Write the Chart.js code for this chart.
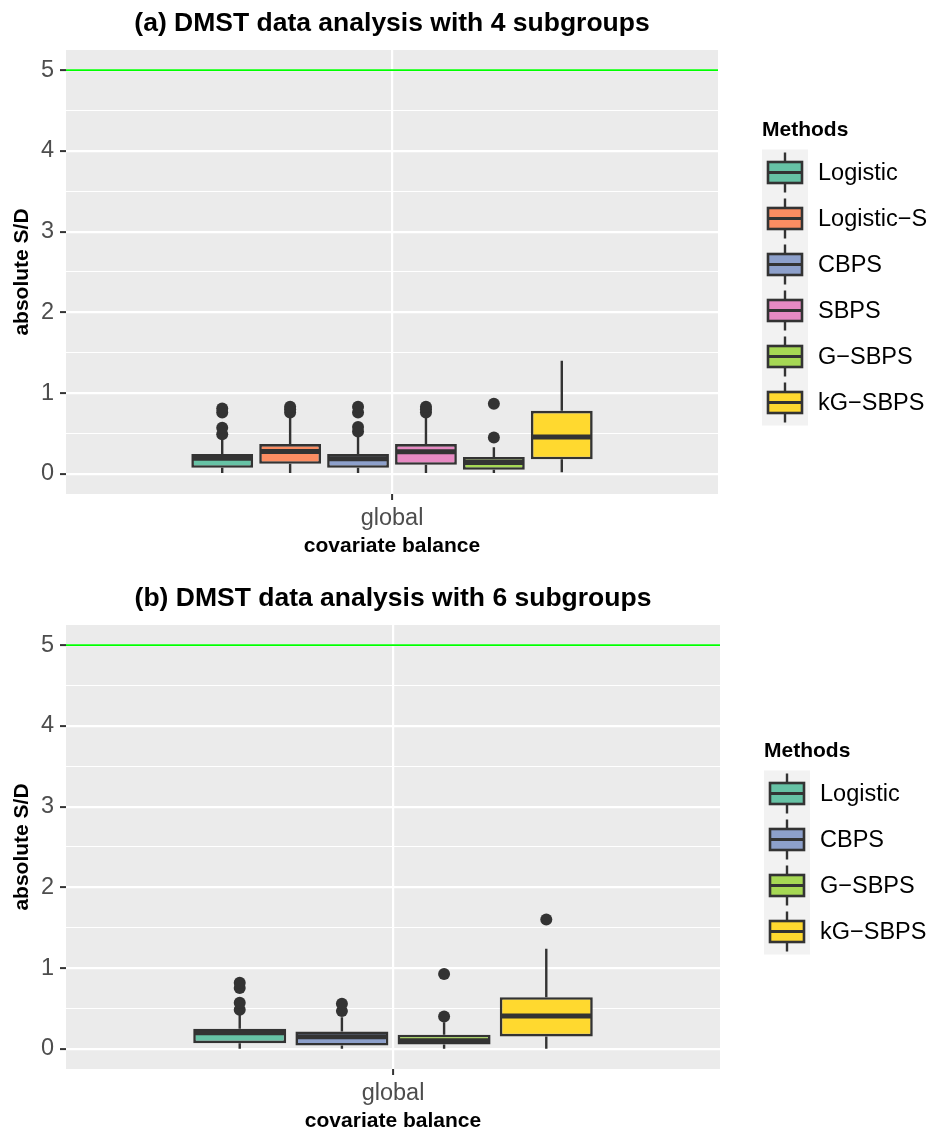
<!DOCTYPE html>
<html>
<head>
<meta charset="utf-8">
<script src="https://cdn.jsdelivr.net/npm/chart.js@4/dist/chart.umd.min.js"></script>
<style>
  html, body { margin: 0; padding: 0; background: #fff; overflow: hidden; }
  canvas { display: block; }
</style>
</head>
<body>
<canvas id="chartA" width="934" height="575"></canvas>
<canvas id="chartB" width="934" height="575"></canvas>
<script>
const FONT = "'Liberation Sans', Arial, Helvetica, sans-serif";

// ggplot Set2 colours per method
const methodColors = {
    'Logistic': '#66C2A5',
    'Logistic−S': '#FC8D62',
    'CBPS': '#8DA0CB',
    'SBPS': '#E78AC3',
    'G−SBPS': '#A6D854',
    'kG−SBPS': '#FFD92F'
};

const categories = ['global'];
const yGridValues = [0, 0.5, 1, 1.5, 2, 2.5, 3, 3.5, 4, 4.5, 5];
const refLine = 5;

// (a) 4 subgroups
const titleA = '(a) DMST data analysis with 4 subgroups';
const methodsA = ['Logistic', 'Logistic−S', 'CBPS', 'SBPS', 'G−SBPS', 'kG−SBPS'];
const lowA = [0.01, 0.01, 0.01, 0.01, 0.01, 0.02];
const q1A = [0.074, 0.124, 0.074, 0.112, 0.05, 0.18];
const medA = [0.194, 0.277, 0.186, 0.273, 0.14, 0.455];
const q3A = [0.244, 0.368, 0.244, 0.368, 0.207, 0.78];
const highA = [0.42, 0.69, 0.46, 0.69, 0.33, 1.40];
const outA = [
    [0.49, 0.57, 0.76, 0.81],
    [0.76, 0.80, 0.83],
    [0.525, 0.58, 0.76, 0.83],
    [0.76, 0.80, 0.83],
    [0.45, 0.868],
    []
];

// (b) 6 subgroups
const titleB = '(b) DMST data analysis with 6 subgroups';
const methodsB = ['Logistic', 'CBPS', 'G−SBPS', 'kG−SBPS'];
const lowB = [0.0, 0.0, 0.0, 0.0];
const q1B = [0.07, 0.04, 0.055, 0.153];
const medB = [0.2, 0.15, 0.1, 0.405];
const q3B = [0.248, 0.215, 0.174, 0.64];
const highB = [0.43, 0.39, 0.33, 1.24];
const outB = [
    [0.483, 0.57, 0.752, 0.818],
    [0.467, 0.558],
    [0.40, 0.926],
    [1.603]
];

// panel background + reference line
const panelBg = {
    id: 'panelBg',
    beforeDraw(chart) {
        const {ctx, chartArea: a} = chart;
        ctx.save();
        ctx.fillStyle = '#EBEBEB';
        ctx.fillRect(a.left, a.top, a.width, a.height);
        ctx.restore();
    },
    beforeDatasetsDraw(chart) {
        const {ctx, chartArea: a} = chart;
        const y = chart.scales.y.getPixelForValue(refLine);
        ctx.save();
        ctx.strokeStyle = '#00FF00';
        ctx.lineWidth = 1.8;
        ctx.beginPath();
        ctx.moveTo(a.left, y);
        ctx.lineTo(a.right, y);
        ctx.stroke();
        ctx.restore();
    }
};

// whiskers, medians, outliers on top of the floating bars
const boxParts = {
    id: 'boxParts',
    afterDatasetsDraw(chart) {
        const {ctx} = chart;
        const ys = chart.scales.y;
        ctx.save();
        chart.data.datasets.forEach((ds, i) => {
            const bar = chart.getDatasetMeta(i).data[0];
            const {x, width} = bar.getProps(['x', 'width'], true);
            const [q1, q3] = ds.data[0];
            ctx.strokeStyle = '#333333';
            ctx.lineWidth = 2.4;
            ctx.beginPath();
            ctx.moveTo(x, ys.getPixelForValue(q3));
            ctx.lineTo(x, ys.getPixelForValue(ds.high));
            ctx.moveTo(x, ys.getPixelForValue(q1));
            ctx.lineTo(x, ys.getPixelForValue(ds.low));
            ctx.stroke();
            ctx.lineWidth = 5;
            ctx.beginPath();
            const my = ys.getPixelForValue(ds.median);
            ctx.moveTo(x - width / 2 + 1, my);
            ctx.lineTo(x + width / 2 - 1, my);
            ctx.stroke();
            ctx.fillStyle = '#333333';
            ds.outliers.forEach(v => {
                ctx.beginPath();
                ctx.arc(x, ys.getPixelForValue(v), 6, 0, Math.PI * 2);
                ctx.fill();
            });
        });
        ctx.restore();
    }
};

// ggplot style legend with boxplot keys
const methodLegend = {
    id: 'methodLegend',
    afterDraw(chart) {
        const {ctx, chartArea: a} = chart;
        const items = chart.data.datasets;
        const itemH = 46, head = 31;
        const h = head + items.length * itemH;
        const top = (a.top + a.bottom) / 2 - h / 2;
        const x0 = a.right + 44;
        ctx.save();
        ctx.textBaseline = 'middle';
        ctx.textAlign = 'left';
        ctx.fillStyle = '#000';
        ctx.font = 'bold 21px ' + FONT;
        ctx.fillText('Methods', x0, top + 12);
        ctx.fillStyle = '#F2F2F2';
        ctx.fillRect(x0, top + head, 46, items.length * itemH);
        items.forEach((ds, i) => {
            const cy = top + head + i * itemH + itemH / 2;
            const cx = x0 + 23;
            ctx.strokeStyle = '#333333';
            ctx.lineWidth = 2.4;
            ctx.beginPath();
            ctx.moveTo(cx, cy - 20);
            ctx.lineTo(cx, cy + 20);
            ctx.stroke();
            ctx.fillStyle = ds.backgroundColor;
            ctx.fillRect(cx - 18, cy - 11.5, 36, 23);
            ctx.lineWidth = 2.6;
            ctx.strokeRect(cx - 17, cy - 10.5, 34, 21);
            ctx.lineWidth = 3;
            ctx.beginPath();
            ctx.moveTo(cx - 17, cy);
            ctx.lineTo(cx + 17, cy);
            ctx.stroke();
            ctx.fillStyle = '#000';
            ctx.font = '23.5px ' + FONT;
            ctx.fillText(ds.label, x0 + 56, cy + 1);
        });
        ctx.restore();
    }
};

function buildChart(canvasId, title, methods, low, q1, med, q3, high, outs, rightPad) {
    const datasets = methods.map((m, i) => ({
        label: m,
        data: [[q1[i], q3[i]]],
        backgroundColor: methodColors[m],
        borderColor: '#333333',
        borderWidth: 2.6,
        borderSkipped: false,
        low: low[i],
        high: high[i],
        median: med[i],
        outliers: outs[i]
    }));
    return new Chart(document.getElementById(canvasId), {
        type: 'bar',
        data: { labels: categories, datasets: datasets },
        plugins: [panelBg, boxParts, methodLegend],
        options: {
            responsive: false,
            animation: false,
            events: [],
            devicePixelRatio: 1,
            layout: { padding: { left: 0, right: rightPad, top: 0, bottom: 0 } },
            datasets: { bar: { categoryPercentage: 0.625, barPercentage: 0.91, grouped: true } },
            plugins: {
                legend: { display: false },
                tooltip: { enabled: false },
                title: {
                    display: true,
                    text: title,
                    fullSize: false,
                    color: '#000',
                    font: { family: FONT, size: 26.5, weight: 'bold', lineHeight: 1.2 },
                    padding: { top: 8, bottom: 10.2 }
                }
            },
            scales: {
                x: {
                    type: 'category',
                    offset: true,
                    border: { display: false },
                    grid: {
                        offset: false,
                        color: '#FFFFFF',
                        lineWidth: 2.2,
                        tickColor: '#333333',
                        tickLength: 6,
                        tickWidth: 2
                    },
                    ticks: { color: '#4D4D4D', font: { family: FONT, size: 23.5 }, padding: 4 },
                    title: {
                        display: true,
                        text: 'covariate balance',
                        color: '#000',
                        font: { family: FONT, size: 21, weight: 'bold' },
                        padding: { top: 0, bottom: 16 }
                    },
                    afterFit(axis) { axis.height = 81; }
                },
                y: {
                    type: 'linear',
                    min: -0.25,
                    max: 5.25,
                    border: { display: false },
                    afterBuildTicks(axis) { axis.ticks = yGridValues.map(v => ({ value: v })); },
                    grid: {
                        color: '#FFFFFF',
                        lineWidth: c => (c.tick && Number.isInteger(c.tick.value)) ? 2.2 : 1.1,
                        tickColor: c => (c.tick && Number.isInteger(c.tick.value)) ? '#333333' : 'rgba(0,0,0,0)',
                        tickLength: 6,
                        tickWidth: 2
                    },
                    ticks: {
                        autoSkip: false,
                        color: '#4D4D4D',
                        font: { family: FONT, size: 23.5 },
                        padding: 6,
                        callback: v => Number.isInteger(v) ? String(v) : ''
                    },
                    title: {
                        display: true,
                        text: 'absolute S/D',
                        color: '#000',
                        font: { family: FONT, size: 21, weight: 'bold' },
                        padding: { top: 10, bottom: 0 }
                    },
                    afterFit(axis) { axis.width = 66; }
                }
            }
        }
    });
}

buildChart('chartA', titleA, methodsA, lowA, q1A, medA, q3A, highA, outA, 216);
buildChart('chartB', titleB, methodsB, lowB, q1B, medB, q3B, highB, outB, 214);
</script>
</body>
</html>
